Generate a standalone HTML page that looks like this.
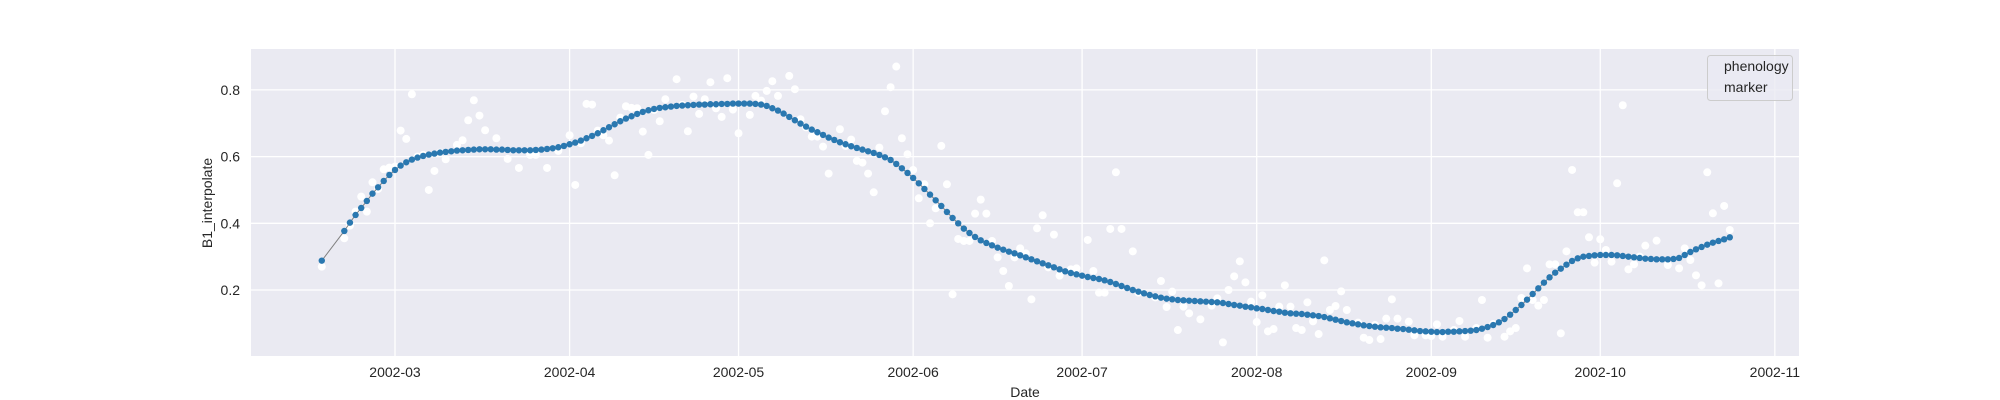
<!DOCTYPE html>
<html><head><meta charset="utf-8">
<style>
html,body{margin:0;padding:0;background:#fff;}
svg{display:block;font-family:"Liberation Sans","DejaVu Sans",sans-serif;}
</style></head>
<body>
<svg id="chart" width="2000" height="400" viewBox="0 0 2000 400" xmlns="http://www.w3.org/2000/svg">
  <rect x="251" y="49" width="1548" height="307" fill="#EAEAF2"/>
  <g id="grid"></g>
  <g id="ticks"></g>
  <g id="white-pts"></g>
  <polyline id="interp-line" fill="none" stroke="#808080" stroke-width="1"/>
  <g id="blue-pts"></g>
  <text x="0" y="0" transform="translate(212,203) rotate(-90)" text-anchor="middle" font-size="14" fill="#262626">B1_interpolate</text>
  <text x="1025" y="397" text-anchor="middle" font-size="14" fill="#262626">Date</text>
  <g>
    <rect x="1707.5" y="55.5" width="85" height="45" rx="3" fill="#EAEAF2" fill-opacity="0.8" stroke="#cccccc" stroke-width="1"/>
    <text x="1724" y="71" font-size="14" fill="#262626">phenology</text>
    <text x="1724" y="92" font-size="14" fill="#262626">marker</text>
  </g>
</svg>
<script>
// Day offsets relative to 2002-03-01
const monthLabels = ["2002-03","2002-04","2002-05","2002-06","2002-07","2002-08","2002-09","2002-10","2002-11"];
const monthDays = [0,31,61,92,122,153,184,214,245];
const yTicks = [0.2,0.4,0.6,0.8];
// interpolated series: first point day -13, then daily from day -9
const blueDays0 = [-13];
const blueVals0 = [0.288];
const blueStart = -9;
const blueVals = [
0.377,0.402,0.425,0.446,0.467,0.489,0.508,0.527,0.545,0.560,
0.573,0.583,0.591,0.597,0.602,0.606,0.609,0.612,0.614,0.616,
0.618,0.619,0.620,0.621,0.622,0.622,0.622,0.621,0.621,0.620,
0.619,0.619,0.619,0.619,0.620,0.621,0.623,0.625,0.628,0.632,
0.637,0.642,0.648,0.655,0.662,0.670,0.679,0.688,0.697,0.706,
0.714,0.721,0.728,0.734,0.739,0.743,0.746,0.748,0.750,0.752,
0.753,0.754,0.755,0.756,0.756,0.757,0.757,0.758,0.758,0.759,
0.759,0.759,0.759,0.758,0.756,0.752,0.745,0.738,0.729,0.719,
0.709,0.699,0.690,0.681,0.673,0.665,0.657,0.650,0.643,0.637,
0.631,0.626,0.621,0.616,0.611,0.605,0.598,0.590,0.578,0.565,
0.551,0.536,0.520,0.503,0.486,0.469,0.452,0.434,0.416,0.400,
0.384,0.371,0.359,0.349,0.341,0.334,0.327,0.321,0.315,0.310,
0.304,0.298,0.292,0.286,0.280,0.274,0.268,0.262,0.256,0.251,
0.247,0.243,0.239,0.236,0.233,0.229,0.224,0.218,0.212,0.206,
0.200,0.195,0.190,0.185,0.181,0.177,0.174,0.172,0.170,0.169,
0.168,0.167,0.166,0.165,0.164,0.163,0.161,0.158,0.155,0.153,
0.150,0.148,0.145,0.143,0.140,0.137,0.135,0.132,0.130,0.129,
0.128,0.126,0.124,0.122,0.119,0.115,0.111,0.107,0.103,0.100,
0.097,0.094,0.092,0.090,0.088,0.087,0.086,0.084,0.083,0.081,
0.079,0.077,0.076,0.075,0.074,0.074,0.075,0.075,0.076,0.077,
0.078,0.080,0.084,0.089,0.095,0.103,0.113,0.126,0.140,0.155,
0.171,0.188,0.205,0.222,0.238,0.252,0.264,0.276,0.287,0.295,
0.300,0.302,0.304,0.305,0.305,0.305,0.304,0.302,0.300,0.298,
0.296,0.294,0.293,0.292,0.292,0.292,0.293,0.296,0.305,0.314,
0.322,0.329,0.336,0.342,0.347,0.352,0.358];
// observed (white) points
const obsDays = [-13,-9,-8,-7,-6,-5,-4,-3,-2,-1,0,1,2,3,4,5,6,7,8,9,11,12,13,14,15,16,18,20,22,24,25,27,29,31,32,33,34,35,36,37,38,39,40,41,42,43,44,45,46,47,48,50,51,52,53,54,55,56,57,58,59,60,61,63,
64,65,66,67,68,70,71,72,73,74,75,76,77,79,80,81,82,83,84,85,86,87,88,89,90,91,92,93,94,95,96,97,98,99,100,101,102,103,104,105,106,107,108,109,110,111,112,113,114,115,116,117,118,120,121,123,124,125,126,127,128,129,131,132,
135,136,137,138,139,140,141,143,145,146,147,148,149,150,151,152,153,154,155,156,157,158,159,160,161,162,163,164,165,166,167,168,169,171,172,173,174,175,176,177,178,180,181,183,184,185,186,188,189,190,192,193,194,195,197,198,199,200,201,202,203,204,205,
206,207,208,209,210,211,212,213,214,215,216,217,218,219,220,221,222,224,226,228,229,230,231,232,233,234,235,236,237];
const obsVals = [0.270,0.355,0.393,0.435,0.480,0.435,0.523,0.503,0.562,0.567,0.570,0.678,0.653,0.787,0.600,0.605,0.500,0.557,0.612,0.592,0.635,0.649,0.709,0.769,0.723,0.679,0.655,0.593,0.566,0.605,0.605,0.566,0.617,0.664,0.515,0.640,0.758,0.756,0.678,0.664,0.648,0.544,0.717,0.751,0.746,0.745,0.675,0.605,0.740,0.706,0.772,0.832,0.755,0.676,0.780,0.728,0.772,0.823,0.745,0.719,0.835,0.741,0.670,0.725,
0.782,0.768,0.797,0.826,0.782,0.842,0.802,0.712,0.688,0.660,0.660,0.630,0.549,0.682,0.632,0.651,0.587,0.582,0.549,0.493,0.627,0.736,0.808,0.870,0.655,0.607,0.560,0.475,0.517,0.400,0.445,0.632,0.517,0.187,0.353,0.347,0.347,0.429,0.471,0.429,0.347,0.298,0.257,0.212,0.298,0.325,0.310,0.172,0.385,0.424,0.268,0.366,0.243,0.262,0.265,0.350,0.257,0.192,0.192,0.383,0.553,0.383,0.316,0.192,0.178,
0.227,0.149,0.195,0.080,0.150,0.130,0.112,0.153,0.175,0.043,0.200,0.241,0.286,0.223,0.165,0.104,0.184,0.076,0.083,0.150,0.214,0.150,0.086,0.080,0.163,0.106,0.068,0.289,0.140,0.152,0.196,0.140,0.102,0.057,0.050,0.095,0.053,0.114,0.172,0.114,0.105,0.064,0.064,0.062,0.097,0.060,0.080,0.107,0.060,0.086,0.170,0.057,0.098,0.060,0.076,0.086,0.176,0.265,0.170,0.153,0.170,0.277,0.277,
0.070,0.316,0.560,0.433,0.433,0.358,0.282,0.352,0.320,0.285,0.520,0.754,0.262,0.277,0.300,0.333,0.348,0.275,0.265,0.325,0.290,0.244,0.214,0.553,0.430,0.220,0.452,0.380,0.307];

const NS = "http://www.w3.org/2000/svg";
const X0 = 395, PXD = 5.632;
function xScale(d){ return X0 + d*PXD; }
function yScale(v){ return 290 - (v-0.2)*333.5; }

const grid = document.getElementById('grid');
const ticks = document.getElementById('ticks');
monthDays.forEach((d,i)=>{
  const x = xScale(d);
  const l = document.createElementNS(NS,'line');
  
  
  l.setAttribute('x1',x); l.setAttribute('x2',x); l.setAttribute('y1',49); l.setAttribute('y2',356);
  l.setAttribute('stroke','#fff'); l.setAttribute('stroke-width','1.3');
  grid.appendChild(l);
  const t = document.createElementNS(NS,'text');
  
  
  t.setAttribute('x',x); t.setAttribute('y',377); t.setAttribute('text-anchor','middle');
  t.setAttribute('font-size','14'); t.setAttribute('fill','#262626');
  t.textContent = monthLabels[i];
  ticks.appendChild(t);
});
yTicks.forEach(v=>{
  const y = yScale(v);
  const l = document.createElementNS(NS,'line');
  
  
  l.setAttribute('x1',251); l.setAttribute('x2',1799); l.setAttribute('y1',y); l.setAttribute('y2',y);
  l.setAttribute('stroke','#fff'); l.setAttribute('stroke-width','1.3');
  grid.appendChild(l);
  const t = document.createElementNS(NS,'text');
  
  
  t.setAttribute('x',240); t.setAttribute('y',y+5); t.setAttribute('text-anchor','end');
  t.setAttribute('font-size','14'); t.setAttribute('fill','#262626');
  t.textContent = v.toFixed(1);
  ticks.appendChild(t);
});

const wg = document.getElementById('white-pts');
obsDays.forEach((d,i)=>{
  if (obsVals[i]===undefined) return;
  const c = document.createElementNS(NS,'circle');
  
  
  c.setAttribute('cx',xScale(d)); c.setAttribute('cy',yScale(obsVals[i])); c.setAttribute('r','4');
  c.setAttribute('fill','#ffffff');
  wg.appendChild(c);
});

const bd = blueDays0.slice(), bv = blueVals0.slice();
blueVals.forEach((v,i)=>{ bd.push(blueStart+i); bv.push(v); });
document.getElementById('interp-line').setAttribute('points', bd.map((d,i)=>xScale(d)+','+yScale(bv[i])).join(' '));
const bg = document.getElementById('blue-pts');
bd.forEach((d,i)=>{
  const c = document.createElementNS(NS,'circle');
  
  
  c.setAttribute('cx',xScale(d)); c.setAttribute('cy',yScale(bv[i])); c.setAttribute('r','3.2');
  c.setAttribute('fill','#2a78b0');
  bg.appendChild(c);
});
</script>
</body></html>
